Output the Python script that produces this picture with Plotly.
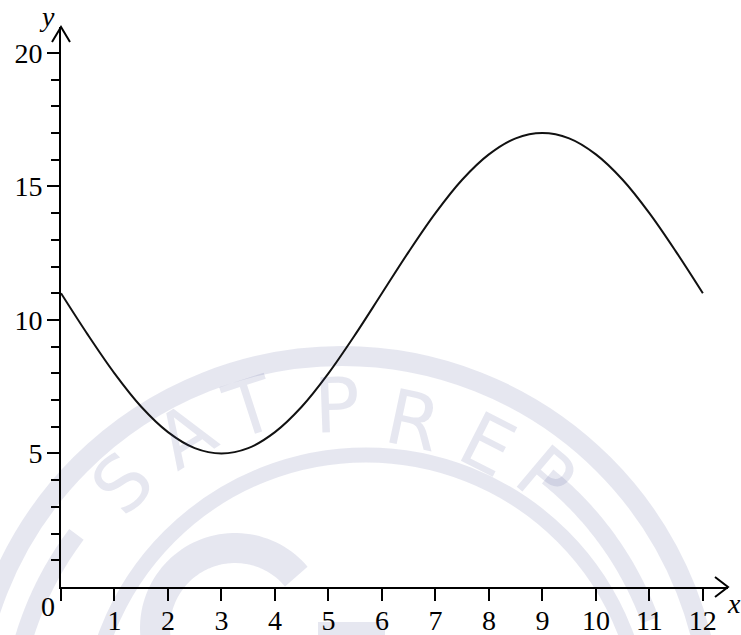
import numpy as np
import plotly.graph_objects as go

# ---------------- data ----------------
x_vals = [0, 0.5, 1, 1.5, 2, 2.5, 3, 3.5, 4, 4.5, 5, 5.5, 6,
          6.5, 7, 7.5, 8, 8.5, 9, 9.5, 10, 10.5, 11, 11.5, 12]
y_vals = [11.0, 9.45, 8.0, 6.75, 5.8, 5.2, 5.0, 5.2, 5.8, 6.75, 8.0, 9.45, 11.0,
          12.55, 14.0, 15.25, 16.2, 16.8, 17.0, 16.8, 16.2, 15.25, 14.0, 12.55, 11.0]

x_tick_vals = [0, 1, 2, 3, 4, 5, 6, 7, 8, 9, 10, 11, 12]
x_tick_text = ["", "1", "2", "3", "4", "5", "6", "7", "8", "9", "10", "11", "12"]
y_tick_vals = [5, 10, 15, 20]
y_tick_text = ["5", "10", "15", "20"]
y_minor_vals = [1, 2, 3, 4, 6, 7, 8, 9, 11, 12, 13, 14, 16, 17, 18, 19]

# ---------------- layout constants ----------------
W, H = 741, 635
L, R, T, B = 61, 13, 27, 48
X_MAX, Y_MAX = 12.47, 20.97
PW, PH = W - L - R, H - T - B
FONT = "Liberation Serif"
FS = 28
WM = "rgba(60,70,140,0.13)"


def px(xp):
    return (xp - L) / PW


def py(yp):
    return (H - B - yp) / PH


fig = go.Figure()
fig.add_trace(go.Scatter(
    x=x_vals, y=y_vals, mode="lines",
    line=dict(color="#111111", width=2, shape="spline", smoothing=1.0),
    hoverinfo="skip", showlegend=False,
))

shapes = []

# ---- watermark (decorative, pixel geometry) ----
def ring(cx, cy, r, w):
    return dict(type="circle", xref="paper", yref="paper",
                x0=px(cx - r), x1=px(cx + r), y0=py(cy + r), y1=py(cy - r),
                line=dict(color=WM, width=w), layer="below")


def arc_path(cx, cy, r, a0, a1, n=60):
    ang = np.radians(np.linspace(a0, a1, n))
    xs = cx + r * np.cos(ang)
    ys = cy - r * np.sin(ang)
    pts = [f"{px(a):.5f},{py(b):.5f}" for a, b in zip(xs, ys)]
    return "M " + " L ".join(pts)


shapes.append(ring(342, 726, 370, 20))
shapes.append(ring(366, 733, 278, 15))
# partial inner arcs
shapes.append(dict(type="path", xref="paper", yref="paper",
                   path=arc_path(340, 733, 330, 143, 175),
                   line=dict(color=WM, width=18), layer="below"))
shapes.append(dict(type="path", xref="paper", yref="paper",
                   path=arc_path(340, 733, 330, 51, 20),
                   line=dict(color=WM, width=18), layer="below"))
# big C logo
shapes.append(dict(type="path", xref="paper", yref="paper",
                   path=arc_path(235, 628, 80, 40, 200),
                   line=dict(color=WM, width=30), layer="below"))
shapes.append(dict(type="rect", xref="paper", yref="paper",
                   x0=px(318), x1=px(385), y0=py(645), y1=py(622),
                   line=dict(width=0), fillcolor=WM, layer="below"))

# ---- axis arrowheads ----
shapes.append(dict(type="path", xref="paper", yref="paper",
                   xsizemode="pixel", ysizemode="pixel", xanchor=1, yanchor=0,
                   path="M -13,10 L 0,0 L -13,-10",
                   line=dict(color="black", width=2)))
shapes.append(dict(type="path", xref="paper", yref="paper",
                   xsizemode="pixel", ysizemode="pixel", xanchor=0, yanchor=1,
                   path="M -9,-15 L 0,0 L 9,-15",
                   line=dict(color="black", width=2)))

annotations = []
letters = [("S", 122, 483, -45), ("A", 185, 435, -32), ("T", 250, 407, -18),
           ("P", 337, 405, -2), ("R", 413, 420, 12), ("E", 488, 444, 27),
           ("P", 546, 476, 40)]
for ch, lx, ly, ang in letters:
    annotations.append(dict(text=ch, xref="paper", yref="paper", x=px(lx), y=py(ly),
                            xanchor="center", yanchor="middle", showarrow=False,
                            textangle=ang,
                            font=dict(family="DejaVu Sans", size=76, color=WM)))

annotations += [
    dict(text="<i>y</i>", xref="paper", yref="paper", x=px(47), y=py(16),
         xanchor="center", yanchor="middle", showarrow=False,
         font=dict(family=FONT, size=FS, color="black")),
    dict(text="<i>x</i>", xref="paper", yref="paper", x=px(734), y=py(603),
         xanchor="center", yanchor="middle", showarrow=False,
         font=dict(family=FONT, size=FS, color="black")),
    dict(text="0", xref="paper", yref="paper", x=px(48), y=py(606),
         xanchor="center", yanchor="middle", showarrow=False,
         font=dict(family=FONT, size=FS, color="black")),
]

fig.update_layout(
    width=W, height=H,
    margin=dict(l=L, r=R, t=T, b=B, pad=0, autoexpand=False),
    paper_bgcolor="white", plot_bgcolor="rgba(0,0,0,0)",
    showlegend=False,
    shapes=shapes, annotations=annotations,
    xaxis=dict(range=[0, X_MAX], showgrid=False, zeroline=False, automargin=False,
               showline=True, linecolor="black", linewidth=2,
               tickmode="array", tickvals=x_tick_vals, ticktext=x_tick_text,
               ticks="outside", ticklen=12, tickwidth=2, tickcolor="black",
               ticklabelstandoff=-5,
               tickfont=dict(family=FONT, size=FS, color="black"),
               fixedrange=True),
    yaxis=dict(range=[0, Y_MAX], showgrid=False, zeroline=False, automargin=False,
               showline=True, linecolor="black", linewidth=2,
               tickmode="array", tickvals=y_tick_vals, ticktext=y_tick_text,
               ticks="outside", ticklen=12, tickwidth=2, tickcolor="black",
               ticklabelstandoff=-1,
               tickfont=dict(family=FONT, size=FS, color="black"),
               minor=dict(tickmode="array", tickvals=y_minor_vals,
                          ticks="outside", ticklen=8, tickwidth=1.5,
                          tickcolor="black", showgrid=False),
               fixedrange=True),
)

fig.write_html("out.html", config={"displayModeBar": False},
               post_script="document.body.style.margin='0px';")
